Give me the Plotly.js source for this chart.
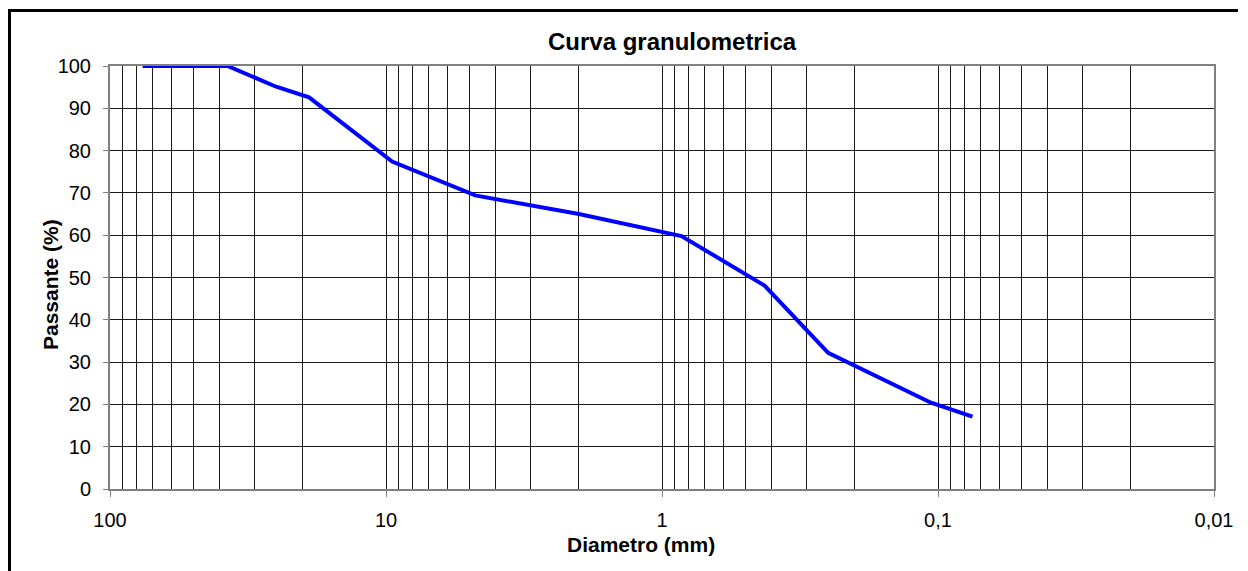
<!DOCTYPE html>
<html>
<head>
<meta charset="utf-8">
<script src="https://cdn.plot.ly/plotly-3.0.1.min.js"></script>
<style>
  html, body { margin: 0; padding: 0; background: #fff; }
  #chart { width: 1248px; height: 571px; }
</style>
</head>
<body>
<div id="chart"></div>
<script>
// ---- data ----
const diameterMm = [76.2, 37.5, 25, 19, 9.5, 4.75, 2.0, 0.85, 0.425, 0.25, 0.106, 0.075];
const passingPct = [100, 100, 95.1, 92.6, 77.4, 69.4, 65.0, 59.8, 48.1, 32.2, 20.4, 17.1];
const xTickVals = [100, 10, 1, 0.1, 0.01];
const xTickText = ['100', '10', '1', '0,1', '0,01'];
const yTickVals = [0, 10, 20, 30, 40, 50, 60, 70, 80, 90, 100];
const chartTitle = 'Curva granulometrica';
const xTitle = 'Diametro (mm)';
const yTitle = 'Passante (%)';

// ---- layout helpers (pixel -> paper) ----
const W = 1248, H = 571;
const M = { l: 110, r: 34, t: 66, b: 82 };
const PW = W - M.l - M.r, PH = H - M.t - M.b;
const px = x => (x - M.l) / PW;
const py = y => (H - M.b - y) / PH;

const FONT = 'Liberation Sans, Arial, sans-serif';

const trace = {
  x: diameterMm,
  y: passingPct,
  type: 'scatter',
  mode: 'lines',
  line: { color: '#0000ff', width: 4 },
  hoverinfo: 'x+y'
};

const layout = {
  width: W, height: H,
  margin: M,
  paper_bgcolor: '#ffffff',
  plot_bgcolor: '#ffffff',
  showlegend: false,
  separators: ',.',
  font: { family: FONT, color: '#000', size: 20 },
  xaxis: {
    type: 'log',
    range: [2, -2],
    tickmode: 'array',
    tickvals: xTickVals,
    ticktext: xTickText,
    ticks: 'outside', ticklen: 6, tickwidth: 1, tickcolor: '#808080',
    tickfont: { family: FONT, size: 20, color: '#000' },
    showgrid: true, gridcolor: '#1a1a1a', gridwidth: 1,
    minor: { dtick: 'D1', showgrid: true, gridcolor: '#1a1a1a', gridwidth: 1, ticks: '' },
    showline: true, linecolor: '#808080', linewidth: 2, mirror: true,
    zeroline: false,
    ticklabelstandoff: 6
  },
  yaxis: {
    range: [0, 100],
    tickmode: 'array',
    tickvals: yTickVals,
    ticks: 'outside', ticklen: 5, tickwidth: 1, tickcolor: '#808080',
    tickfont: { family: FONT, size: 20, color: '#000' },
    showgrid: true, gridcolor: '#1a1a1a', gridwidth: 1,
    showline: true, linecolor: '#808080', linewidth: 2, mirror: true,
    zeroline: false,
    ticklabelstandoff: 8
  },
  annotations: [
    { text: '<b>' + chartTitle + '</b>', xref: 'paper', yref: 'paper',
      x: px(672.5), y: py(41), xanchor: 'center', yanchor: 'middle',
      showarrow: false, font: { family: FONT, size: 24, color: '#000' } },
    { text: '<b>' + xTitle + '</b>', xref: 'paper', yref: 'paper',
      x: px(641.3), y: py(544), xanchor: 'center', yanchor: 'middle',
      showarrow: false, font: { family: FONT, size: 21, color: '#000' } },
    { text: '<b>' + yTitle + '</b>', xref: 'paper', yref: 'paper',
      x: px(50), y: py(285), xanchor: 'center', yanchor: 'middle', textangle: -90,
      showarrow: false, font: { family: FONT, size: 21, color: '#000' } }
  ],
  shapes: [
    { type: 'line', xref: 'paper', yref: 'paper', layer: 'above',
      x0: px(8), x1: px(1238), y0: py(10.5), y1: py(10.5),
      line: { color: '#000', width: 3 } },
    { type: 'line', xref: 'paper', yref: 'paper', layer: 'above',
      x0: px(9.5), x1: px(9.5), y0: py(9), y1: py(580),
      line: { color: '#000', width: 3 } }
  ]
};

Plotly.newPlot('chart', [trace], layout, { staticPlot: true, displayModeBar: false });
</script>
</body>
</html>
